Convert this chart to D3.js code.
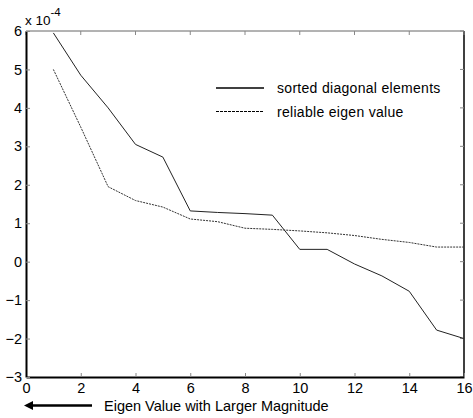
<!DOCTYPE html>
<html>
<head>
<meta charset="utf-8">
<script src="https://cdn.jsdelivr.net/npm/d3@7"></script>
<style>
  body { margin: 0; background: #fff; }
  svg text { font-family: "Liberation Sans", Arial, sans-serif; }
</style>
</head>
<body>
<script>
// index of eigen value (1..16)
const xs = d3.range(1, 17)
// values in units of 1e-4
const sortedDiag = [5.95, 4.85, 4.0, 3.05, 2.72, 1.32, 1.28, 1.25, 1.21, 0.32, 0.32, -0.06, -0.37, -0.77, -1.78, -2.0]
const reliableEig = [5.0, 3.5, 1.95, 1.59, 1.42, 1.11, 1.04, 0.87, 0.84, 0.8, 0.75, 0.68, 0.58, 0.5, 0.38, 0.38]
const xTicks = [0, 2, 4, 6, 8, 10, 12, 14, 16]
const yTicks = [-3, -2, -1, 0, 1, 2, 3, 4, 5, 6]
const legendLabels = ["sorted diagonal elements", "reliable eigen value"]

const width = 473, height = 418
const mLeft = 26, mRight = 464, mTop = 31, mBottom = 377

const svg = d3.select("body").append("svg")
  .attr("width", width).attr("height", height)

const x = d3.scaleLinear().domain([0, 16]).range([mLeft, mRight])
const y = d3.scaleLinear().domain([-3, 6]).range([mBottom, mTop])

// box: top and right edges
svg.append("line").attr("x1", mLeft).attr("x2", mRight).attr("y1", mTop).attr("y2", mTop)
  .attr("stroke", "#666").attr("stroke-width", 1)
svg.append("line").attr("x1", mRight).attr("x2", mRight).attr("y1", mTop).attr("y2", mBottom)
  .attr("stroke", "#000").attr("stroke-width", 1.5)

// inward ticks on top and right
svg.append("g").selectAll("line").data(xTicks).join("line")
  .attr("x1", d => x(d)).attr("x2", d => x(d)).attr("y1", mTop).attr("y2", mTop + 4)
  .attr("stroke", "#888")
svg.append("g").selectAll("line").data(yTicks).join("line")
  .attr("x1", mRight).attr("x2", mRight - 4).attr("y1", d => y(d)).attr("y2", d => y(d))
  .attr("stroke", "#888")

// bottom axis
const xAxis = svg.append("g").attr("transform", `translate(0,${mBottom})`)
  .call(d3.axisBottom(x).tickValues(xTicks).tickSizeInner(-4).tickSizeOuter(0).tickPadding(6))
xAxis.select(".domain").attr("stroke", "#000").attr("stroke-width", 2)
xAxis.selectAll(".tick line").attr("stroke", "#888")
xAxis.selectAll("text").attr("font-size", 14.5).attr("fill", "#000")

// left axis
const yAxis = svg.append("g").attr("transform", `translate(${mLeft},0)`)
  .call(d3.axisLeft(y).tickValues(yTicks).tickSizeInner(-4).tickSizeOuter(0).tickPadding(4))
yAxis.select(".domain").attr("stroke", "#000").attr("stroke-width", 2)
yAxis.selectAll(".tick line").attr("stroke", "#888")
yAxis.selectAll("text").attr("font-size", 14.5).attr("fill", "#000")

// exponent label
const ex = svg.append("text").attr("x", 25).attr("y", 25).attr("font-size", 13.5).attr("fill", "#000")
ex.append("tspan").text("x 10")
ex.append("tspan").attr("dy", -9).attr("font-size", 11.5).text("-4")

// series
const line = d3.line().x((d, i) => x(xs[i])).y(d => y(d))
svg.append("path").datum(sortedDiag).attr("d", line)
  .attr("fill", "none").attr("stroke", "#222").attr("stroke-width", 1)
svg.append("path").datum(reliableEig).attr("d", line)
  .attr("fill", "none").attr("stroke", "#333").attr("stroke-width", 1)
  .attr("stroke-dasharray", "2,1")

// legend
const leg = svg.append("g")
leg.append("line").attr("x1", 216).attr("x2", 264).attr("y1", 88).attr("y2", 88)
  .attr("stroke", "#000").attr("stroke-width", 1.5)
leg.append("line").attr("x1", 216).attr("x2", 264).attr("y1", 111.5).attr("y2", 111.5)
  .attr("stroke", "#000").attr("stroke-width", 1.2).attr("stroke-dasharray", "3,1")
leg.selectAll("text").data(legendLabels).join("text")
  .attr("x", 277).attr("y", (d, i) => 93 + i * 23.5)
  .attr("font-size", 14).attr("letter-spacing", 0.3).attr("fill", "#000").text(d => d)

// arrow + axis caption
svg.append("defs").append("marker").attr("id", "ah")
  .attr("viewBox", "0 0 10 10").attr("refX", 0).attr("refY", 5)
  .attr("markerWidth", 4).attr("markerHeight", 3.6).attr("orient", "auto")
  .append("path").attr("d", "M0,0 L10,5 L0,10 Z").attr("fill", "#000")
svg.append("line").attr("x1", 92).attr("x2", 33).attr("y1", 405.5).attr("y2", 405.5)
  .attr("stroke", "#000").attr("stroke-width", 2.5).attr("marker-end", "url(#ah)")
svg.append("text").attr("x", 104).attr("y", 411).attr("font-size", 14.5).attr("fill", "#000")
  .text("Eigen Value with Larger Magnitude")
</script>
</body>
</html>
